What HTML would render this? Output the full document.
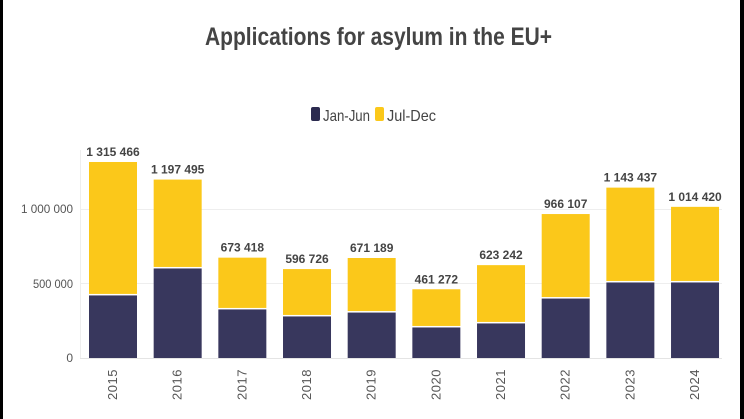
<!DOCTYPE html>
<html><head><meta charset="utf-8"><style>
html,body{margin:0;padding:0;background:#fff;}
svg{display:block;font-family:"Liberation Sans",sans-serif;}
</style></head><body>
<svg width="744" height="419" viewBox="0 0 744 419">
<rect x="0" y="0" width="744" height="419" fill="#fff"/>
<rect x="0" y="0" width="3" height="419" fill="#000"/>
<rect x="740" y="0" width="4" height="419" fill="#000"/>
<text x="205" y="45" font-size="25" font-weight="bold" fill="#444" textLength="347" lengthAdjust="spacingAndGlyphs">Applications for asylum in the EU+</text>
<rect x="311" y="107" width="9" height="14" rx="2" fill="#2b2a4f"/>
<text x="323" y="121" font-size="16" fill="#444" textLength="47" lengthAdjust="spacingAndGlyphs">Jan-Jun</text>
<rect x="375" y="107" width="9" height="14" rx="2" fill="#fbc81a"/>
<text x="387" y="121" font-size="16" fill="#444" textLength="49" lengthAdjust="spacingAndGlyphs">Jul-Dec</text>
<g stroke="#eee" stroke-width="1">
<line x1="80" y1="209.5" x2="722" y2="209.5"/>
<line x1="80" y1="283.5" x2="722" y2="283.5"/>
</g>
<line x1="80" y1="358.5" x2="722" y2="358.5" stroke="#e4e4e4"/>
<line x1="80.5" y1="150" x2="80.5" y2="358" stroke="#eee"/>
<g font-size="12" fill="#555" text-anchor="end">
<text x="73" y="213" textLength="52" lengthAdjust="spacingAndGlyphs">1 000 000</text>
<text x="73" y="288" textLength="40" lengthAdjust="spacingAndGlyphs">500 000</text>
<text x="73" y="362">0</text>
</g>
<g id="bars"></g>
</svg>
<script>
var tot=[1315466,1197495,673418,596726,671189,461272,623242,966107,1143437,1014420];
var h1=[430000,611000,336000,289000,315000,215000,242000,409000,517000,517000];
var g=document.getElementById('bars'),ns='http://www.w3.org/2000/svg',s='';
function y(v){return 358-v*149/1000000;}
function fmt(n){return String(n).replace(/\B(?=(\d{3})+(?!\d))/g,' ');}
for(var i=0;i<10;i++){
var x=89+i*64.67,w=48;
s+='<rect x="'+x+'" y="'+y(tot[i])+'" width="'+w+'" height="'+(y(h1[i])-y(tot[i]))+'" fill="#fbc81a"/>';
s+='<rect x="'+x+'" y="'+(y(h1[i])+1.5)+'" width="'+w+'" height="'+(358-y(h1[i])-1.5)+'" fill="#38375d"/>';
s+='<text x="'+(x+w/2)+'" y="'+(y(tot[i])-6)+'" font-size="12" font-weight="bold" fill="#444" text-anchor="middle">'+fmt(tot[i])+'</text>';
var cx=x+w/2+4;
s+='<text transform="translate('+cx+',400) rotate(-90)" font-size="13" fill="#555" letter-spacing="0.5">'+(2015+i)+'</text>';
}
g.innerHTML=s;
</script>
</body></html>
